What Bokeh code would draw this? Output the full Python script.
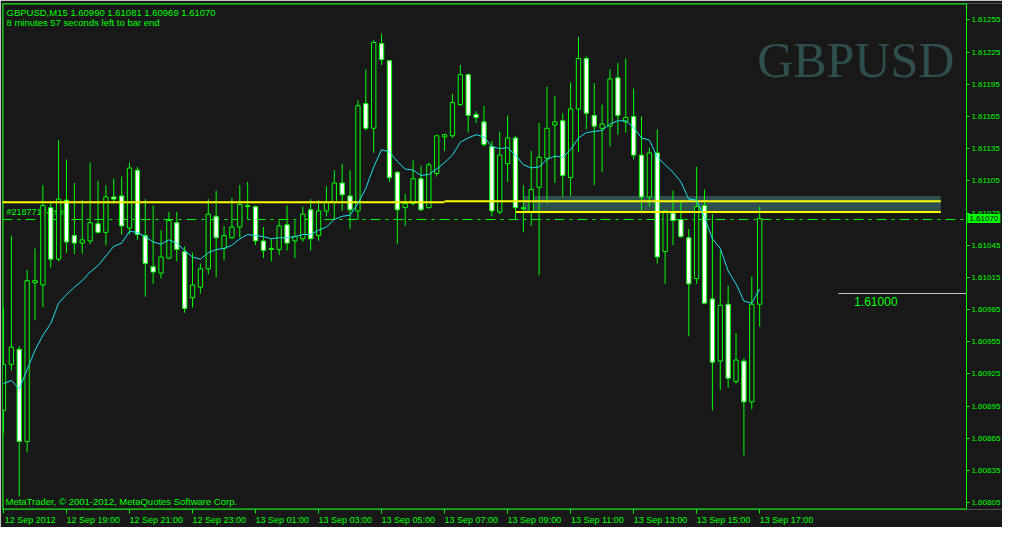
from bokeh.plotting import figure
from bokeh.models import Range1d, FixedTicker, PrintfTickFormatter, Label, ColumnDataSource
from bokeh.embed import file_html
from bokeh.resources import INLINE

# ---------------- data (GBPUSD, M15) ----------------
symbol_line = "GBPUSD,M15  1.60990 1.61081 1.60969 1.61070"
timer_line = "8 minutes 57 seconds left to bar end"
copyright_line = "MetaTrader, \u00a9 2001-2012, MetaQuotes Software Corp."

open_ = [1.60891, 1.60934, 1.60948, 1.60862, 1.61010, 1.61008, 1.61080, 1.61032, 1.61087, 1.61054,
         1.61047, 1.61049, 1.61065, 1.61057, 1.61090, 1.61091, 1.61061, 1.61115, 1.61054, 1.61025,
         1.61019, 1.61033, 1.61066, 1.61039, 1.60996, 1.61006, 1.61023, 1.61072, 1.61042, 1.61052,
         1.61062, 1.61082, 1.61081, 1.61049, 1.61042, 1.61041, 1.61064, 1.61049, 1.61051, 1.61078,
         1.61054, 1.61077, 1.61085, 1.61103, 1.61091, 1.61077, 1.61177, 1.61154, 1.61233, 1.61217,
         1.61113, 1.61080, 1.61084, 1.61107, 1.61080, 1.61112, 1.61146, 1.61147, 1.61176, 1.61204,
         1.61167, 1.61160, 1.61137, 1.61076, 1.61121, 1.61145, 1.61080, 1.61076, 1.61099, 1.61126,
         1.61157, 1.61161, 1.61108, 1.61172, 1.61219, 1.61166, 1.61154, 1.61156, 1.61201, 1.61160,
         1.61165, 1.61129, 1.61090, 1.61131, 1.61039, 1.61075, 1.61069, 1.61052, 1.61014, 1.61082,
         1.60995, 1.60937, 1.60990, 1.60918, 1.60937, 1.60899, 1.60990]
high = [1.60987, 1.61054, 1.60951, 1.61022, 1.61042, 1.61101, 1.61085, 1.61143, 1.61125, 1.61103,
        1.61087, 1.61122, 1.61105, 1.61101, 1.61107, 1.61109, 1.61122, 1.61118, 1.61088, 1.61082,
        1.61059, 1.61076, 1.61076, 1.61044, 1.61038, 1.61028, 1.61088, 1.61096, 1.61063, 1.61089,
        1.61101, 1.61104, 1.61082, 1.61062, 1.61051, 1.61068, 1.61082, 1.61068, 1.61081, 1.61088,
        1.61087, 1.61100, 1.61115, 1.61121, 1.61115, 1.61180, 1.61209, 1.61236, 1.61242, 1.61217,
        1.61114, 1.61093, 1.61124, 1.61119, 1.61122, 1.61148, 1.61149, 1.61186, 1.61213, 1.61205,
        1.61170, 1.61175, 1.61142, 1.61151, 1.61166, 1.61147, 1.61101, 1.61133, 1.61159, 1.61193,
        1.61184, 1.61168, 1.61197, 1.61239, 1.61221, 1.61196, 1.61176, 1.61209, 1.61215, 1.61219,
        1.61191, 1.61165, 1.61136, 1.61153, 1.61077, 1.61096, 1.61087, 1.61060, 1.61118, 1.61097,
        1.61074, 1.61040, 1.61007, 1.60963, 1.60940, 1.61016, 1.61081]
low = [1.60870, 1.60928, 1.60811, 1.60852, 1.60975, 1.60987, 1.61024, 1.61030, 1.61038, 1.61037,
       1.61037, 1.61046, 1.61056, 1.61045, 1.61084, 1.61055, 1.61055, 1.61050, 1.60997, 1.61009,
       1.61014, 1.61032, 1.61030, 1.60982, 1.60987, 1.61000, 1.61018, 1.61015, 1.61031, 1.61051,
       1.61052, 1.61069, 1.61045, 1.61033, 1.61030, 1.61036, 1.61040, 1.61033, 1.61048, 1.61040,
       1.61049, 1.61072, 1.61069, 1.61077, 1.61060, 1.61069, 1.61152, 1.61131, 1.61213, 1.61104,
       1.61046, 1.61063, 1.61082, 1.61077, 1.61079, 1.61109, 1.61133, 1.61145, 1.61175, 1.61150,
       1.61159, 1.61137, 1.61072, 1.61074, 1.61104, 1.61069, 1.61057, 1.61063, 1.61017, 1.61084,
       1.61103, 1.61090, 1.61091, 1.61132, 1.61153, 1.61101, 1.61113, 1.61137, 1.61148, 1.61150,
       1.61125, 1.61077, 1.61081, 1.61028, 1.61009, 1.61045, 1.61052, 1.60960, 1.61009, 1.60990,
       1.60891, 1.60910, 1.60912, 1.60916, 1.60849, 1.60892, 1.60969]
close = [1.60934, 1.60950, 1.60862, 1.61012, 1.61012, 1.61082, 1.61032, 1.61088, 1.61048, 1.61047,
         1.61050, 1.61066, 1.61057, 1.61090, 1.61088, 1.61063, 1.61117, 1.61055, 1.61028, 1.61020,
         1.61034, 1.61068, 1.61041, 1.60986, 1.61008, 1.61023, 1.61074, 1.61052, 1.61054, 1.61062,
         1.61083, 1.61081, 1.61049, 1.61040, 1.61041, 1.61063, 1.61047, 1.61053, 1.61074, 1.61051,
         1.61077, 1.61085, 1.61103, 1.61092, 1.61078, 1.61175, 1.61154, 1.61234, 1.61218, 1.61108,
         1.61078, 1.61084, 1.61107, 1.61078, 1.61120, 1.61147, 1.61148, 1.61178, 1.61204, 1.61166,
         1.61164, 1.61139, 1.61077, 1.61129, 1.61145, 1.61080, 1.61079, 1.61097, 1.61127, 1.61154,
         1.61160, 1.61110, 1.61172, 1.61219, 1.61168, 1.61156, 1.61158, 1.61200, 1.61166, 1.61164,
         1.61129, 1.61090, 1.61131, 1.61034, 1.61077, 1.61068, 1.61053, 1.61009, 1.61081, 1.60991,
         1.60936, 1.60989, 1.60921, 1.60938, 1.60899, 1.60990, 1.61070]
moving_average = [1.60916, 1.60919, 1.60911, 1.60929, 1.60947, 1.60961, 1.60972, 1.60991, 1.60999, 1.61006,
                  1.61012, 1.61020, 1.61026, 1.61035, 1.61044, 1.61047, 1.61058, 1.61057, 1.61053, 1.61048,
                  1.61046, 1.61050, 1.61047, 1.61040, 1.61034, 1.61032, 1.61038, 1.61041, 1.61042, 1.61045,
                  1.61051, 1.61055, 1.61054, 1.61053, 1.61051, 1.61052, 1.61052, 1.61053, 1.61055, 1.61055,
                  1.61059, 1.61062, 1.61069, 1.61072, 1.61073, 1.61084, 1.61098, 1.61118, 1.61134, 1.61132,
                  1.61123, 1.61116, 1.61115, 1.61110, 1.61111, 1.61116, 1.61122, 1.61129, 1.61141, 1.61145,
                  1.61148, 1.61146, 1.61137, 1.61135, 1.61136, 1.61129, 1.61120, 1.61117, 1.61118, 1.61125,
                  1.61128, 1.61127, 1.61134, 1.61145, 1.61150, 1.61151, 1.61152, 1.61158, 1.61161, 1.61161,
                  1.61155, 1.61145, 1.61143, 1.61127, 1.61120, 1.61113, 1.61104, 1.61088, 1.61087, 1.61071,
                  1.61051, 1.61042, 1.61021, 1.61009, 1.60993, 1.60991, 1.61004]

time_tick_bars = [0, 8, 16, 24, 32, 40, 48, 56, 64, 72, 80, 88, 96]
time_tick_labels = ["12 Sep 2012", "12 Sep 19:00", "12 Sep 21:00", "12 Sep 23:00",
                    "13 Sep 01:00", "13 Sep 03:00", "13 Sep 05:00", "13 Sep 07:00",
                    "13 Sep 09:00", "13 Sep 11:00", "13 Sep 13:00", "13 Sep 15:00",
                    "13 Sep 17:00"]
price_ticks = [1.60805, 1.60835, 1.60865, 1.60895, 1.60925, 1.60955, 1.60985, 1.61015,
               1.61045, 1.61075, 1.61105, 1.61135, 1.61165, 1.61195, 1.61225, 1.61255]

# drawn objects
yellow_x0 = [-1, 56, 65]
yellow_x1 = [56, 119, 119]
yellow_level = [1.61085, 1.61086, 1.61076]
zone_left, zone_right, zone_top, zone_bottom = [66], [119], [1.61091], [1.61075]
order_level = 1.61069
order_text = "#21877174 sell"
price_label_level = 1.61000
price_label_start = 106
bid_price = 1.61070

# ---------------- layout ----------------
BG = "#181818"
GREEN = "#00ff00"
FONT = "Liberation Sans"
X_START, X_END = -0.125, 122.25        # chart window (bars)
X_VIEW_END = 126.83                    # includes the price-scale strip
Y_BOTTOM, Y_TOP = 1.607987, 1.612703
LABEL_SHIFT = 3.4   # MT4 writes the time text to the right of its tick

p = figure(width=1002, height=527, output_backend="svg", toolbar_location=None,
           x_range=Range1d(X_START, X_VIEW_END), y_range=Range1d(Y_BOTTOM, Y_TOP),
           y_axis_location="right",
           min_border_left=2, min_border_right=0, min_border_top=3, min_border_bottom=16,
           background_fill_color=BG, border_fill_color=BG, outline_line_color=None)
p.xgrid.visible = False
p.ygrid.visible = False

# time axis: tick marks (minor) at the bars, text centred to the right of them
xa = p.xaxis[0]
label_pos = [b + LABEL_SHIFT for b in time_tick_bars]
xa.ticker = FixedTicker(ticks=label_pos, minor_ticks=time_tick_bars)
xa.major_label_overrides = {v: t for v, t in zip(label_pos, time_tick_labels)}
xa.axis_line_color = None
xa.major_tick_line_color = None
xa.major_tick_out = 0
xa.major_tick_in = 0
xa.minor_tick_line_color = GREEN
xa.minor_tick_out = 4
xa.minor_tick_in = 0
xa.major_label_standoff = 1
xa.major_label_text_color = GREEN
xa.major_label_text_font = FONT
xa.major_label_text_font_size = "9px"

# price axis pinned at the chart's right border
ya = p.yaxis[0]
ya.fixed_location = X_END
ya.ticker = FixedTicker(ticks=price_ticks)
ya.formatter = PrintfTickFormatter(format="%.5f")
ya.axis_line_color = GREEN
ya.axis_line_width = 1
ya.major_tick_line_color = GREEN
ya.major_tick_out = 3
ya.major_tick_in = 0
ya.minor_tick_line_color = None
ya.major_label_standoff = 2
ya.major_label_text_color = GREEN
ya.major_label_text_font = FONT
ya.major_label_text_font_size = "8px"

# chart border (left, top, bottom)
p.segment(x0=[X_START, X_START, X_START], x1=[X_START, X_END, X_END],
          y0=[Y_BOTTOM, Y_TOP, Y_BOTTOM], y1=[Y_TOP, Y_TOP, Y_BOTTOM],
          line_color=GREEN, line_width=2)

idx = list(range(len(open_)))
bull = [c >= o for o, c in zip(open_, close)]
src = ColumnDataSource(dict(
    x=idx, high=high, low=low,
    top=[max(o, c) for o, c in zip(open_, close)],
    bottom=[min(o, c) for o, c in zip(open_, close)],
    fill=[BG if b else "#ffffff" for b in bull],
    ma=moving_average))

# order label behind chart
p.add_layout(Label(x=4, x_units="screen", y=order_level, y_units="data", y_offset=2,
                   text=order_text, text_baseline="bottom", text_color=GREEN,
                   text_font=FONT, text_font_size="9px", level="underlay"))

# shaded zone (background object)
p.quad(left=zone_left, right=zone_right, top=zone_top, bottom=zone_bottom,
       fill_color="#2f4f4f", line_color=None)

# order line
p.segment(x0=[X_START], x1=[X_END], y0=[order_level], y1=[order_level],
          line_color=GREEN, line_width=1, line_dash="10 5 3 5")

# candles
p.segment(x0="x", x1="x", y0="low", y1="high", source=src, line_color=GREEN, line_width=1)
p.vbar(x="x", width=0.55, top="top", bottom="bottom", source=src,
       fill_color="fill", line_color=GREEN, line_width=1)

# yellow lines
p.segment(x0=yellow_x0, x1=yellow_x1, y0=yellow_level, y1=yellow_level,
          line_color="#ffff00", line_width=2)

# moving average
p.line(x="x", y="ma", source=src, line_color="#1ee0f0", line_width=1)

# price label line
p.segment(x0=[price_label_start], x1=[X_END],
          y0=[price_label_level], y1=[price_label_level], line_color="#c8c8c8", line_width=1)
p.add_layout(Label(x=108, y=price_label_level, y_offset=-3, text="%.5f" % price_label_level,
                   text_baseline="top", text_color=GREEN, text_font=FONT, text_font_size="12px"))

# watermark
p.add_layout(Label(x=X_END, y=Y_TOP, x_offset=-12, y_offset=-56, text="GBPUSD",
                   text_align="right", text_baseline="middle", text_color="#2f4f4f",
                   text_font="Liberation Serif", text_font_size="50px", level="underlay"))

# header texts
p.add_layout(Label(x=4, x_units="screen", y=Y_TOP, y_offset=-3, text=symbol_line,
                   text_baseline="top", text_color=GREEN, text_font=FONT, text_font_size="9.5px"))
p.add_layout(Label(x=4, x_units="screen", y=Y_TOP, y_offset=-13, text=timer_line,
                   text_baseline="top", text_color=GREEN, text_font=FONT, text_font_size="9.5px"))
p.add_layout(Label(x=3, x_units="screen", y=Y_BOTTOM, y_offset=3, text=copyright_line,
                   text_baseline="bottom", text_color=GREEN, text_font=FONT, text_font_size="9.5px"))

# bid price box on the price scale
p.add_layout(Label(x=X_END, y=bid_price, x_offset=1, text="%.5f" % bid_price,
                   text_align="left", text_baseline="middle", text_color="#000000",
                   text_font=FONT, text_font_size="8px",
                   background_fill_color=GREEN, padding=2))

open("out.html", "w").write(file_html(p, INLINE))
